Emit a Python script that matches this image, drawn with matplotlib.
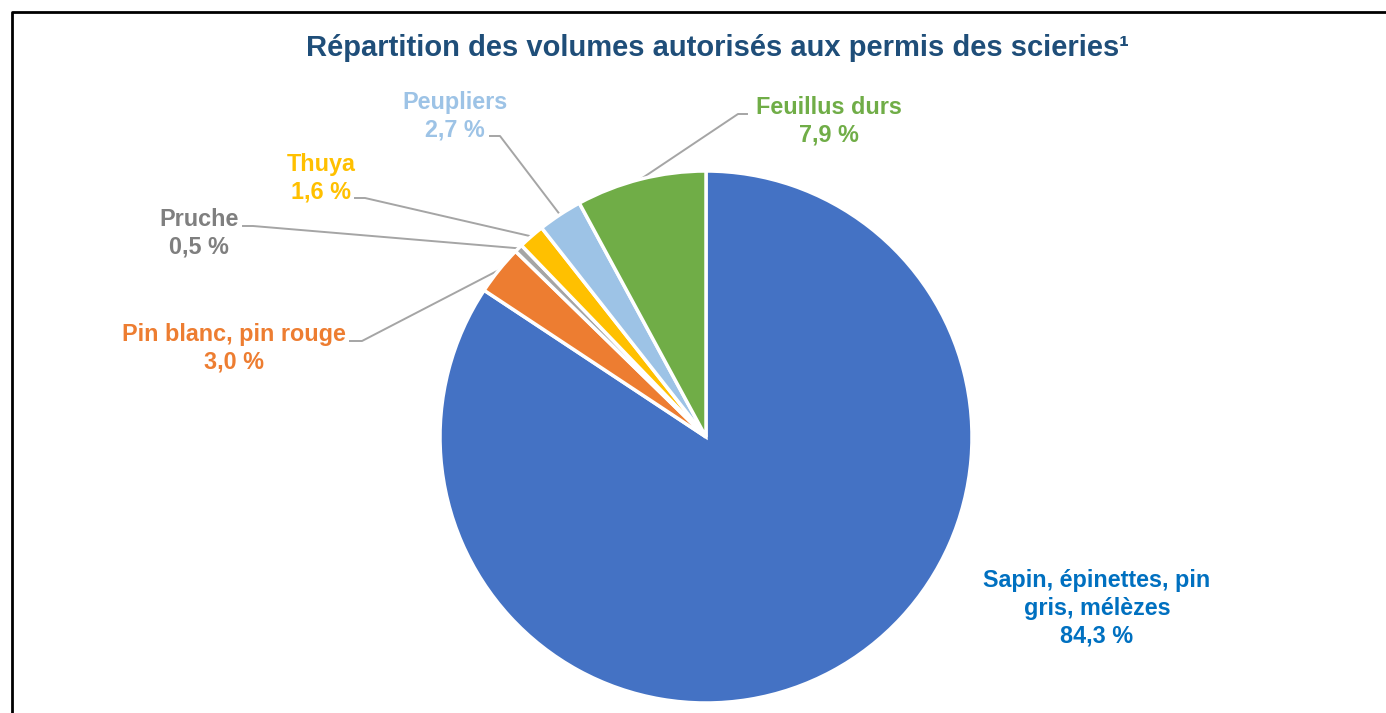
import numpy as np
import matplotlib.pyplot as plt

plt.rcParams['font.family'] = ['Liberation Sans', 'DejaVu Sans']

# data
categories = ["Sapin, épinettes, pin\ngris, mélèzes", "Pin blanc, pin rouge", "Pruche",
              "Thuya", "Peupliers", "Feuillus durs"]
values = [84.3, 3.0, 0.5, 1.6, 2.7, 7.9]
colors = ["#4472C4", "#ED7D31", "#A5A5A5", "#FFC000", "#9DC3E6", "#70AD47"]
text_colors = ["#0070C0", "#ED7D31", "#7F7F7F", "#FFC000", "#9DC3E6", "#70AD47"]

# label placement in pixels (x, y from top), and leader elbow (x, y from top) or None
label_pos = [(1097, 608), (234, 348), (199, 233), (321, 178), (455, 116), (829, 121)]
elbow_pos = [None, (362, 341), (253, 226), (365, 198), (500, 136), (738, 114)]
elbow_len = [0, -12, -10, -10, -10, 9]

W, H = 1386, 713
cx, cy, r = 706, H - 437, 266

fig = plt.figure(figsize=(W / 100, H / 100), dpi=100)
ax = fig.add_axes([0, 0, 1, 1])
ax.set_xlim(0, W)
ax.set_ylim(0, H)
ax.set_aspect('equal')
ax.axis('off')

wedges, _ = ax.pie(values, colors=colors, startangle=90, counterclock=False,
                   center=(cx, cy), radius=r,
                   wedgeprops=dict(edgecolor='white', linewidth=2.5))
ax.set_xlim(0, W)
ax.set_ylim(0, H)

for i, (w, lab) in enumerate(zip(wedges, categories)):
    txt = f"{lab}\n{values[i]:.1f} %".replace('.', ',')
    lx, ly = label_pos[i]
    ax.text(lx, H - ly, txt, ha='center', va='center', fontsize=16.8,
            fontweight='bold', color=text_colors[i], linespacing=1.25)
    if elbow_pos[i] is not None:
        ang = np.deg2rad((w.theta1 + w.theta2) / 2)
        px, py = cx + r * np.cos(ang), cy + r * np.sin(ang)
        ex, ey = elbow_pos[i]
        ax.plot([ex + elbow_len[i], ex, px], [H - ey, H - ey, py],
                color='#A5A5A5', linewidth=1.4, zorder=0.5)

ax.text(717, H - 48, "Répartition des volumes autorisés aux permis des scieries¹",
        ha='center', va='center', fontsize=21, fontweight='bold', color='#1F4E79')

# outer frame (partly cropped)
ax.plot([12, 12, W + 5], [-5, H - 12, H - 12], color='black', linewidth=2, clip_on=False)

fig.savefig("out.png", dpi=100)
